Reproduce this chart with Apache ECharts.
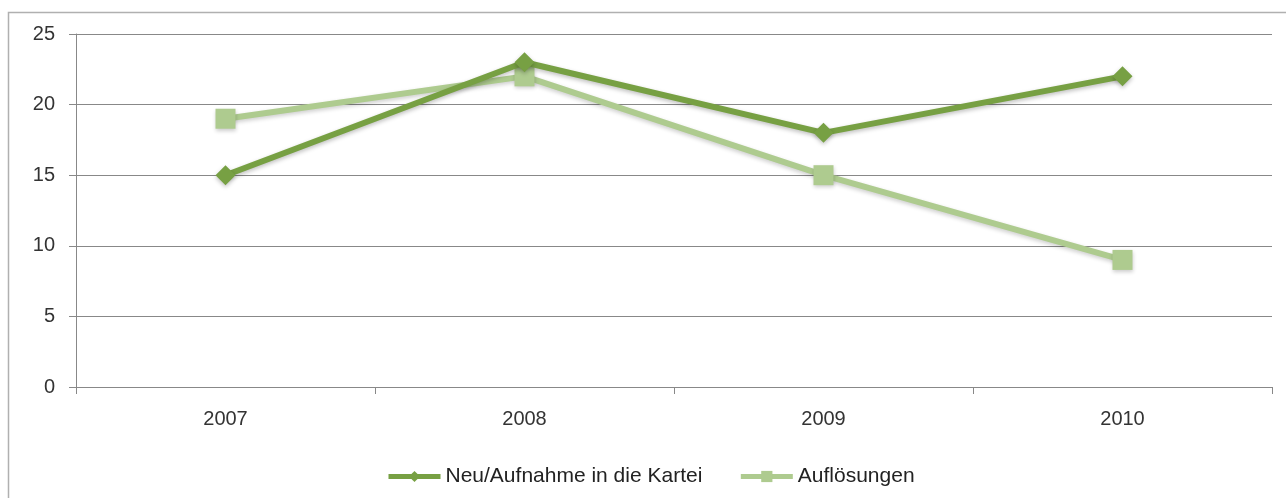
<!DOCTYPE html>
<html>
<head>
<meta charset="utf-8">
<script src="https://cdn.jsdelivr.net/npm/echarts@6/dist/echarts.min.js"></script>
<style>
  html, body { margin: 0; padding: 0; background: #fff; }
  #chart { width: 1286px; height: 498px; }
</style>
</head>
<body>
<div id="chart"></div>
<script>
// Daten
var years = ['2007', '2008', '2009', '2010'];
var neuAufnahme = [15, 23, 18, 22];
var aufloesungen = [19, 22, 15, 9];
var yTicks = [0, 5, 10, 15, 20, 25];

var darkGreen = '#77a043';
var lightGreen = '#aecb8f';

var myChart = echarts.init(document.getElementById('chart'));
var option = {
  animation: false,
  textStyle: { fontFamily: 'Liberation Sans, Arial, sans-serif' },
  graphic: [
    {
      type: 'rect',
      shape: { x: 8.5, y: 12.5, width: 1300, height: 520 },
      style: { fill: 'none', stroke: '#b0b0b0', lineWidth: 1.5 },
      silent: true
    }
  ],
  grid: { left: 76, right: 14, top: 34, bottom: 111 },
  legend: {
    top: 461,
    left: 381,
    itemWidth: 52,
    itemHeight: 14,
    itemGap: 36,
    lineStyle: { width: 5, shadowBlur: 0 },
    itemStyle: { shadowBlur: 0 },
    textStyle: { fontSize: 21, color: '#222' },
    data: ['Neu/Aufnahme in die Kartei', 'Auflösungen']
  },
  xAxis: {
    type: 'category',
    data: years,
    boundaryGap: true,
    axisLine: { lineStyle: { color: '#888', width: 1 } },
    axisTick: { show: true, interval: 0, length: 7, lineStyle: { color: '#888' } },
    axisLabel: { fontSize: 20, color: '#333', margin: 22 },
    splitLine: { show: false }
  },
  yAxis: {
    type: 'value',
    min: yTicks[0],
    max: yTicks[yTicks.length - 1],
    interval: 5,
    axisLine: { show: true, lineStyle: { color: '#888', width: 1 } },
    axisTick: { show: true, length: 7, lineStyle: { color: '#888' } },
    axisLabel: { fontSize: 20, color: '#333', margin: 21 },
    splitLine: { show: true, lineStyle: { color: '#888', width: 1 } }
  },
  series: [
    {
      name: 'Neu/Aufnahme in die Kartei',
      type: 'line',
      data: neuAufnahme,
      symbol: 'diamond',
      symbolSize: 20,
      color: darkGreen,
      z: 3,
      lineStyle: {
        width: 6, color: darkGreen,
        shadowColor: 'rgba(0,0,0,0.25)', shadowBlur: 4, shadowOffsetY: 2
      },
      itemStyle: {
        color: darkGreen,
        shadowColor: 'rgba(0,0,0,0.25)', shadowBlur: 4, shadowOffsetY: 2
      }
    },
    {
      name: 'Auflösungen',
      type: 'line',
      data: aufloesungen,
      symbol: 'rect',
      symbolSize: 20,
      color: lightGreen,
      z: 2,
      lineStyle: {
        width: 6, color: lightGreen,
        shadowColor: 'rgba(0,0,0,0.2)', shadowBlur: 4, shadowOffsetY: 2
      },
      itemStyle: {
        color: lightGreen,
        shadowColor: 'rgba(0,0,0,0.2)', shadowBlur: 4, shadowOffsetY: 2
      }
    }
  ]
};
myChart.setOption(option);
</script>
</body>
</html>
